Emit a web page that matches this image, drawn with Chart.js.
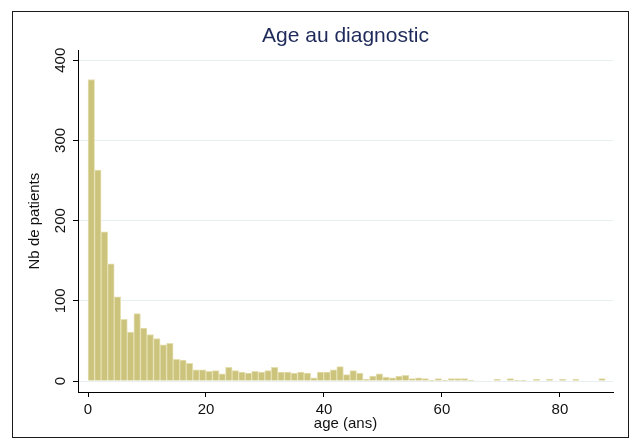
<!DOCTYPE html>
<html>
<head>
<meta charset="utf-8">
<script src="https://cdn.jsdelivr.net/npm/chart.js@4.4.0/dist/chart.umd.min.js"></script>
<style>
    html, body { margin: 0; padding: 0; background: #fff; }
</style>
</head>
<body>
<canvas id="age-histogram" width="640" height="441"></canvas>
<script>
// histogram bins start at 0, each one binWidth years wide
const binWidth = 1.11;
const ageCounts = [
    376, 263, 186, 146, 105, 77, 61, 84, 66, 58,
    53, 45, 47, 27, 26, 22, 14, 14, 12, 13,
    9, 17, 13, 11, 10, 12, 11, 13, 17, 11,
    11, 10, 11, 10, 4, 11, 11, 14, 18, 8,
    13, 10, 2, 6, 9, 5, 4, 6, 7, 3,
    4, 3, 1, 3, 1, 3, 3, 3, 1, 0,
    0, 0, 2, 0, 3, 1, 1, 0, 2, 0,
    2, 0, 2, 0, 2, 0, 0, 0, 3
];
const yTickValues = [0, 100, 200, 300, 400];
const xTickValues = [0, 20, 40, 60, 80];

const fontFamily = "'Liberation Sans', Arial, sans-serif";

function histogramPoints(counts, width) {
    let points = [];
    for (let i = 0; i < counts.length; i++) {
        points.push({ x: (i + 0.5) * width, y: counts[i] });
    }
    return points;
}

// black frame round the whole graph, like Stata's outer region
const outerFrame = {
    id: 'outerFrame',
    beforeDraw(chart) {
        const ctx = chart.ctx;
        ctx.save();
        ctx.fillStyle = '#ffffff';
        ctx.fillRect(0, 0, chart.width, chart.height);
        ctx.restore();
    },
    afterDraw(chart) {
        const ctx = chart.ctx;
        ctx.save();
        ctx.strokeStyle = '#1a1a1a';
        ctx.lineWidth = 1;
        ctx.strokeRect(12.5, 11.5, 616, 426);
        ctx.restore();
    }
};

const element = document.getElementById('age-histogram');
const ageChart = new Chart(element, {
    type: 'bar',
    data: {
        datasets: [{
            label: 'Nb de patients',
            data: histogramPoints(ageCounts, binWidth),
            backgroundColor: 'rgb(204, 195, 124)',
            borderColor: 'rgb(229, 224, 178)',
            borderWidth: 1,
            barPercentage: 1,
            categoryPercentage: 1
        }]
    },
    options: {
        responsive: false,
        animation: false,
        layout: { padding: { left: 14, right: 27, top: 0, bottom: 0 } },
        plugins: {
            legend: { display: false },
            tooltip: { enabled: false },
            title: {
                display: true,
                text: 'Age au diagnostic',
                fullSize: false,
                color: '#1e2a5a',
                font: { family: fontFamily, size: 21, weight: 'normal' },
                padding: { top: 24, bottom: 1 }
            }
        },
        scales: {
            x: {
                type: 'linear',
                offset: false,
                min: -1.7,
                max: 89,
                afterBuildTicks: (scale) => {
                    scale.ticks = xTickValues.map(v => ({ value: v }));
                },
                afterFit: (scale) => { scale.height = 49; },
                grid: {
                    offset: false,
                    drawOnChartArea: false,
                    drawTicks: true,
                    tickLength: 5,
                    tickColor: '#000'
                },
                border: { color: '#000', width: 1 },
                ticks: {
                    color: '#111',
                    padding: 4,
                    maxRotation: 0,
                    font: { family: fontFamily, size: 15 }
                },
                title: {
                    display: true,
                    text: 'age (ans)',
                    color: '#111',
                    padding: { top: 0, bottom: 8 },
                    font: { family: fontFamily, size: 15 }
                }
            },
            y: {
                min: -13.7,
                max: 412.5,
                afterBuildTicks: (scale) => {
                    scale.ticks = yTickValues.map(v => ({ value: v }));
                },
                afterFit: (scale) => { scale.width = 64; },
                grid: {
                    color: '#e8eff1',
                    drawTicks: true,
                    tickLength: 5,
                    tickColor: '#000'
                },
                border: { color: '#000', width: 1 },
                ticks: {
                    color: '#111',
                    padding: 0,
                    minRotation: 90,
                    maxRotation: 90,
                    crossAlign: 'center',
                    font: { family: fontFamily, size: 15 }
                },
                title: {
                    display: true,
                    text: 'Nb de patients',
                    color: '#111',
                    padding: { top: 12, bottom: 0 },
                    font: { family: fontFamily, size: 15 }
                }
            }
        }
    },
    plugins: [outerFrame]
});
</script>
</body>
</html>
